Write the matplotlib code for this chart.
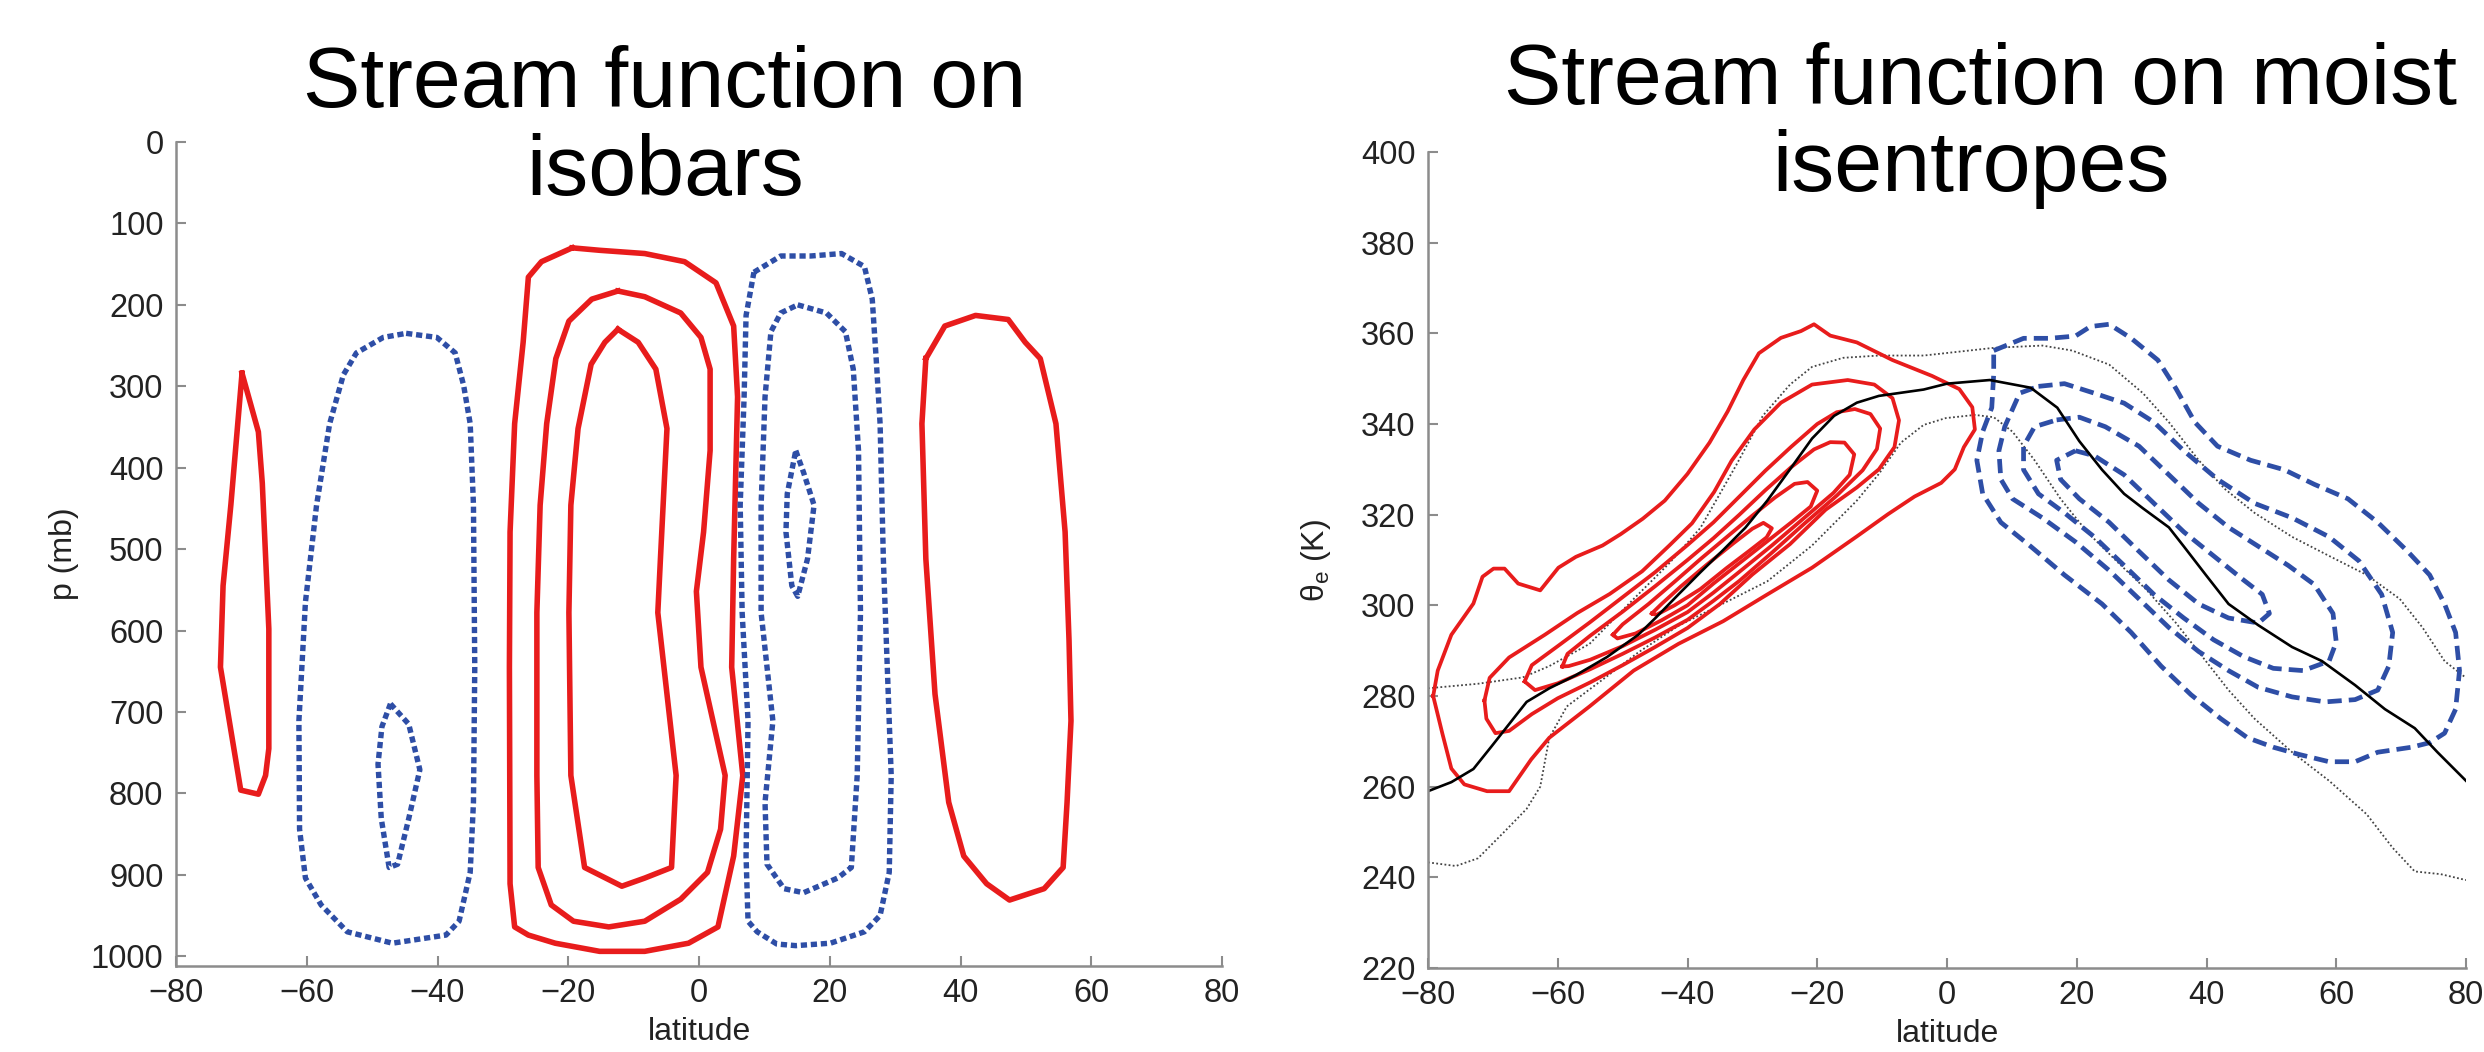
import matplotlib
matplotlib.use('Agg')
import matplotlib.pyplot as plt

plt.rcParams['font.family'] = ['Liberation Sans', 'DejaVu Sans']
plt.rcParams['mathtext.fontset'] = 'custom'
plt.rcParams['mathtext.rm'] = 'Liberation Sans'
plt.rcParams['mathtext.it'] = 'Liberation Sans'

# ---------------- data: left panel (latitude, pressure mb) ----------------
iso_red_a = [(-69.9, 284), (-67.4, 356), (-66.8, 419), (-65.8, 598), (-65.8, 745), (-66.3, 778),
             (-67.4, 801), (-70.1, 796), (-73.2, 645), (-72.8, 545), (-71.6, 445)]
iso_blue_a = [(-44.8, 235), (-40.1, 240), (-37.3, 259), (-36.0, 299), (-35.0, 346), (-34.5, 446),
              (-34.3, 645), (-34.5, 811), (-35.0, 897), (-36.7, 957), (-38.7, 974), (-46.9, 984),
              (-53.8, 970), (-57.8, 937), (-60.2, 904), (-61.1, 844), (-61.2, 711), (-60.2, 565),
              (-58.5, 446), (-56.5, 346), (-54.4, 286), (-52.4, 259), (-48.3, 240)]
iso_blue_b = [(-47.2, 690), (-44.4, 715), (-42.7, 771), (-44.4, 831), (-46.1, 887), (-47.4, 891),
              (-48.6, 831), (-49.1, 764), (-48.5, 718)]
iso_red_b1 = [(-19.4, 130), (-15.2, 133), (-8.3, 137), (-2.2, 147), (2.6, 173), (5.3, 226), (5.9, 313),
              (5.3, 512), (5.0, 645), (6.7, 778), (5.3, 877), (2.9, 964), (-1.6, 984), (-8.3, 994),
              (-15.2, 994), (-22.0, 984), (-26.1, 974), (-28.2, 964), (-28.9, 911), (-29.0, 645),
              (-28.9, 479), (-28.2, 346), (-26.9, 246), (-26.1, 166), (-24.1, 147)]
iso_red_b2 = [(-12.4, 183), (-8.3, 190), (-2.8, 210), (0.3, 240), (1.7, 279), (1.7, 379), (0.7, 479),
              (-0.4, 552), (0.3, 645), (4.0, 778), (3.3, 844), (1.3, 897), (-2.8, 930), (-8.3, 957),
              (-13.8, 964), (-19.2, 957), (-22.6, 937), (-24.6, 891), (-24.8, 778), (-24.8, 578),
              (-24.3, 446), (-23.3, 346), (-21.9, 266), (-19.9, 220), (-16.4, 193)]
iso_red_b3 = [(-12.4, 230), (-9.3, 246), (-6.6, 279), (-4.9, 352), (-5.9, 512), (-6.3, 578), (-3.5, 778),
              (-4.2, 891), (-8.3, 904), (-11.8, 914), (-17.5, 891), (-19.6, 778), (-19.9, 578),
              (-19.6, 446), (-18.5, 352), (-16.5, 273), (-14.4, 246)]
iso_blue_c1 = [(8.4, 160), (12.5, 140), (17.1, 140), (21.8, 137), (25.3, 153), (26.5, 193), (27.1, 266),
               (27.7, 346), (28.2, 512), (28.8, 645), (29.4, 778), (29.1, 897), (27.7, 950), (25.3, 970),
               (20.1, 984), (14.8, 987), (11.9, 985), (8.9, 970), (7.5, 957), (7.2, 877), (7.5, 711),
               (6.6, 578), (6.3, 446), (6.9, 313), (7.2, 213)]
iso_blue_c2 = [(15.1, 200), (19.5, 210), (22.4, 233), (23.6, 279), (24.4, 379), (24.7, 578), (24.2, 778),
               (23.3, 891), (21.2, 904), (16.0, 922), (13.0, 917), (10.4, 887), (10.1, 811), (11.3, 711),
               (9.5, 578), (9.5, 446), (10.1, 313), (11.0, 233), (12.5, 210)]
iso_blue_c3 = [(14.8, 379), (16.0, 406), (17.6, 446), (16.6, 512), (15.1, 558), (14.2, 545),
               (13.3, 479), (13.5, 432)]
iso_red_c = [(34.7, 266), (37.6, 226), (42.3, 213), (47.3, 218), (49.9, 246), (52.2, 266), (54.6, 346),
             (56.0, 479), (56.6, 612), (56.9, 711), (56.3, 811), (55.7, 891), (52.8, 917), (47.5, 931),
             (44.0, 911), (40.5, 877), (38.2, 811), (36.1, 678), (34.7, 512), (34.1, 346)]

# ---------------- data: right panel (latitude, theta_e K) ----------------
isen_red_1 = [(-79.2, 280.0), (-78.5, 285.6), (-76.4, 293.5), (-73.0, 300.4), (-71.6, 306.3), (-69.9, 308.1),
              (-68.2, 308.1), (-66.1, 304.8), (-62.7, 303.3), (-59.9, 308.3), (-57.2, 310.7), (-53.1, 313.2),
              (-50.3, 315.7), (-46.9, 319.1), (-43.5, 323.1), (-40.0, 329.0), (-36.6, 335.9), (-33.8, 342.8),
              (-31.4, 349.7), (-29.0, 355.6), (-25.6, 359.0), (-22.5, 360.5), (-20.5, 362.0), (-18.0, 359.5),
              (-13.9, 358.0), (-8.4, 354.1), (-2.3, 350.6), (1.9, 347.7), (3.9, 343.7), (4.3, 338.8),
              (2.6, 334.9), (1.2, 330.0), (-0.9, 327.0), (-5.0, 324.0), (-9.1, 320.1), (-13.9, 315.2),
              (-20.8, 308.3), (-27.7, 302.4), (-34.5, 296.5), (-41.4, 291.5), (-48.3, 285.6), (-55.1, 277.7),
              (-61.3, 270.8), (-64.1, 266.0), (-67.5, 259.0), (-70.9, 259.0), (-74.4, 260.5), (-76.4, 264.0),
              (-77.8, 271.8)]
isen_red_2 = [(-71.3, 279.0), (-70.5, 284.0), (-67.5, 288.5), (-62.0, 293.5), (-57.0, 298.3), (-52.0, 302.5),
              (-47.0, 307.5), (-42.8, 313.2), (-39.3, 318.1), (-35.9, 325.0), (-33.2, 331.9), (-29.7, 338.8),
              (-25.6, 344.7), (-20.8, 348.7), (-15.3, 349.7), (-11.2, 348.7), (-8.4, 345.7), (-7.4, 340.8),
              (-8.1, 334.9), (-10.5, 330.0), (-13.9, 326.0), (-18.7, 321.1), (-24.2, 313.5), (-30.0, 306.8),
              (-35.0, 300.3), (-40.0, 295.0), (-45.0, 290.8), (-50.0, 286.8), (-55.0, 283.0), (-60.0, 279.5),
              (-64.0, 276.0), (-67.5, 272.3), (-69.6, 271.8), (-71.0, 275.0)]
isen_red_3 = [(-65.1, 283.2), (-64.0, 286.8), (-60.0, 291.0), (-55.0, 296.3), (-50.0, 301.8), (-45.0, 307.3),
              (-40.0, 313.3), (-36.0, 318.3), (-32.0, 324.0), (-28.0, 329.7), (-24.0, 335.0), (-20.0, 340.0),
              (-17.0, 342.6), (-14.2, 343.3), (-11.8, 342.2), (-10.3, 339.0), (-10.8, 334.5), (-13.0, 329.8),
              (-17.0, 324.2), (-22.0, 318.0), (-27.0, 311.6), (-32.0, 305.4), (-36.0, 301.0), (-40.0, 296.8),
              (-45.0, 292.9), (-50.0, 289.3), (-55.0, 285.9), (-60.0, 282.8), (-63.5, 281.3)]
isen_red_4 = [(-59.3, 286.5), (-58.5, 289.3), (-55.0, 293.3), (-50.0, 298.6), (-45.0, 304.2), (-40.0, 310.0),
              (-36.0, 314.8), (-32.0, 320.0), (-28.0, 325.4), (-24.0, 330.5), (-20.5, 334.4), (-18.0, 336.0),
              (-15.8, 335.9), (-14.3, 333.3), (-15.0, 328.8), (-17.5, 324.8), (-22.0, 319.3), (-27.0, 313.2),
              (-32.0, 307.4), (-36.0, 302.8), (-40.0, 298.5), (-45.0, 294.6), (-50.0, 291.0), (-55.0, 288.0),
              (-58.3, 286.6)]
isen_red_5 = [(-51.5, 293.5), (-50.0, 295.8), (-46.0, 300.3), (-42.0, 305.2), (-38.0, 310.2), (-34.0, 315.0),
              (-30.0, 319.8), (-26.5, 323.8), (-23.5, 326.8), (-21.5, 327.2), (-20.0, 325.3), (-21.0, 321.8),
              (-24.0, 318.3), (-28.0, 313.8), (-32.0, 309.3), (-36.0, 304.8), (-40.0, 300.0), (-44.0, 296.7),
              (-48.0, 293.8), (-50.8, 292.7)]
isen_red_6 = [(-45.5, 298.2), (-44.0, 300.3), (-41.0, 304.2), (-37.0, 309.0), (-33.0, 313.6), (-30.0, 316.9),
              (-28.3, 318.2), (-27.0, 317.0), (-27.8, 315.0), (-30.5, 312.0), (-34.0, 308.2), (-38.0, 303.6),
              (-42.0, 300.0), (-44.8, 297.9)]
isen_blue_1 = [(7.2, 356.2), (11.8, 358.9), (15.8, 358.9), (19.8, 359.4), (22.1, 361.5), (25.0, 362.0),
               (28.4, 358.9), (32.5, 354.1), (35.3, 347.8), (38.2, 340.4), (41.7, 335.1), (46.8, 332.0),
               (52.0, 329.9), (56.6, 326.7), (61.8, 323.5), (66.4, 318.3), (71.0, 311.9), (74.4, 306.7),
               (76.7, 300.3), (78.4, 294.0), (79.0, 285.6), (78.4, 277.1), (76.7, 271.8), (74.4, 269.7),
               (71.6, 268.7), (66.4, 267.6), (62.9, 265.5), (58.9, 265.5), (54.3, 267.1), (50.3, 268.7),
               (46.3, 270.8), (42.2, 275.0), (37.6, 280.3), (33.0, 286.6), (28.4, 294.0), (23.9, 300.3),
               (18.1, 306.7), (12.9, 313.0), (8.3, 318.3), (5.5, 324.6), (4.6, 332.0), (5.5, 338.3),
               (6.9, 343.6), (7.2, 351.0)]
isen_blue_2 = [(14.1, 348.3), (18.1, 348.9), (22.7, 346.8), (27.3, 344.6), (31.9, 340.4), (36.5, 334.1),
               (41.7, 327.8), (47.4, 322.5), (53.2, 319.3), (58.9, 315.1), (63.5, 309.8), (67.0, 302.4),
               (68.7, 294.0), (68.1, 286.6), (66.4, 281.3), (62.9, 279.2), (58.3, 278.7), (53.2, 279.8),
               (48.0, 281.9), (43.4, 285.6), (38.8, 289.8), (34.2, 295.1), (29.6, 301.4), (25.0, 307.7),
               (19.8, 314.0), (14.7, 319.3), (10.1, 323.5), (8.3, 327.8), (8.0, 334.1), (8.9, 339.4),
               (11.2, 346.8)]
isen_blue_3 = [(16.9, 340.9), (20.4, 341.5), (24.4, 339.4), (29.6, 335.1), (34.2, 328.8), (38.8, 322.5),
               (43.4, 317.2), (48.0, 313.0), (52.6, 308.8), (56.6, 304.6), (59.5, 298.2), (60.0, 291.9),
               (58.9, 287.7), (54.9, 285.6), (50.3, 286.1), (45.7, 288.7), (41.1, 292.4), (36.5, 297.2),
               (31.9, 302.4), (27.3, 308.8), (22.7, 315.1), (18.1, 320.4), (14.1, 324.6), (11.8, 329.9),
               (11.8, 335.1), (13.5, 339.4)]
isen_blue_4 = [(19.8, 334.1), (22.7, 333.0), (27.3, 328.8), (31.9, 322.5), (36.5, 316.2), (41.1, 310.9),
               (45.7, 305.6), (48.6, 302.4), (49.7, 298.2), (48.0, 296.1), (43.4, 297.2), (38.8, 300.3),
               (34.2, 305.6), (29.6, 311.9), (25.0, 318.3), (20.4, 323.5), (17.5, 327.8), (16.9, 332.0)]
mean_theta_lat = [-80.0, -76.4, -73.0, -70.2, -67.5, -64.8, -61.3, -57.2, -52.4, -47.6, -44.8, -41.4, -38.0,
                  -34.5, -31.1, -27.7, -24.2, -20.8, -17.4, -13.9, -10.5, -3.6, 0.0, 6.6, 12.9, 17.0, 20.4,
                  23.9, 27.3, 30.2, 34.2, 36.5, 39.9, 43.4, 48.0, 53.2, 57.8, 62.9, 67.5, 72.1, 75.6, 80.0]
mean_theta = [259.0, 261.0, 263.9, 268.9, 273.8, 278.7, 281.7, 284.6, 288.6, 293.5, 297.4, 302.4, 307.3,
              312.2, 317.1, 323.1, 330.0, 336.8, 341.8, 344.7, 346.2, 347.6, 348.9, 349.7, 348.0, 343.6, 336.2,
              329.9, 324.6, 321.4, 317.2, 313.0, 306.7, 300.3, 295.6, 290.8, 287.7, 282.4, 277.1, 272.9, 267.6,
              261.3]
upper_theta_lat = [-80.0, -72.3, -65.4, -61.3, -55.1, -48.3, -42.8, -38.0, -32.5, -28.4, -24.2, -20.8, -16.0,
                   -10.5, -3.6, 7.2, 14.7, 19.3, 25.0, 30.2, 34.2, 38.8, 42.8, 47.4, 53.2, 58.9, 64.7, 69.8,
                   73.3, 76.7, 80.0]
upper_theta = [281.7, 282.7, 284.1, 286.6, 291.5, 301.4, 309.3, 317.1, 330.9, 341.8, 348.7, 352.6, 354.6,
               355.1, 355.1, 356.8, 357.3, 356.2, 353.1, 346.8, 340.4, 332.0, 325.7, 320.4, 315.1, 310.9,
               306.7, 301.4, 295.1, 287.7, 284.0]
lower_theta_lat = [-80.0, -75.7, -72.3, -68.2, -64.8, -62.7, -61.3, -58.6, -53.1, -47.6, -41.4, -34.5, -27.7,
                   -20.8, -13.9, -10.5, -7.1, -3.6, -0.2, 4.3, 7.2, 10.1, 13.5, 17.5, 21.6, 26.1, 30.7, 35.3,
                   39.9, 43.4, 47.4, 53.2, 58.9, 64.7, 68.7, 72.1, 76.1, 80.0]
lower_theta = [243.3, 242.5, 244.2, 250.1, 255.1, 260.0, 270.8, 277.7, 283.6, 289.6, 295.5, 300.4, 305.3,
               313.2, 323.1, 329.0, 335.9, 339.8, 341.3, 342.0, 341.5, 338.3, 332.0, 323.5, 316.2, 309.8,
               303.5, 296.1, 287.7, 281.3, 275.0, 267.6, 261.3, 253.9, 246.5, 241.3, 240.7, 239.4]

p_ticks = list(range(0, 1001, 100))
theta_ticks = list(range(220, 401, 20))
lat_ticks = list(range(-80, 81, 20))

RED = '#e81c1c'
BLUE = '#2e4ea6'
W, H = 2484, 1052

fig = plt.figure(figsize=(W / 100, H / 100), dpi=100)
ax1 = fig.add_axes([176 / W, 1 - 966 / H, 1046 / W, 824 / H])
ax2 = fig.add_axes([1428 / W, 1 - 968 / H, 1038 / W, 816 / H])


def closed(pts):
    xs = [a for a, b in pts] + [pts[0][0]]
    ys = [b for a, b in pts] + [pts[0][1]]
    return xs, ys


for c in [iso_red_a, iso_red_b1, iso_red_b2, iso_red_b3, iso_red_c]:
    ax1.plot(*closed(c), color=RED, lw=4.0, solid_joinstyle='round')
for c in [iso_blue_a, iso_blue_b, iso_blue_c1, iso_blue_c2, iso_blue_c3]:
    ax1.plot(*closed(c), color=BLUE, lw=3.9, linestyle=(0, (1.15, 0.7)), dash_capstyle='butt')

ax2.plot(upper_theta_lat, upper_theta, color='#444444', lw=1.3, linestyle=(0, (1, 1.3)))
ax2.plot(lower_theta_lat, lower_theta, color='#444444', lw=1.3, linestyle=(0, (1, 1.3)))
for c in [isen_red_1, isen_red_2, isen_red_3, isen_red_4, isen_red_5, isen_red_6]:
    ax2.plot(*closed(c), color=RED, lw=2.7, solid_joinstyle='round')
for c in [isen_blue_1, isen_blue_2, isen_blue_3, isen_blue_4]:
    ax2.plot(*closed(c), color=BLUE, lw=3.4, linestyle=(0, (3.0, 1.5)))
ax2.plot(mean_theta_lat, mean_theta, color='black', lw=1.9)

ax1.set_xlim(-80, 80)
ax1.set_ylim(1012, 0)
ax1.set_xticks(lat_ticks)
ax1.set_yticks(p_ticks)
ax2.set_xlim(-80, 80)
ax2.set_ylim(220, 400)
ax2.set_xticks(lat_ticks)
ax2.set_yticks(theta_ticks)

for ax in (ax1, ax2):
    for s in ['top', 'right']:
        ax.spines[s].set_visible(False)
    for s in ['left', 'bottom']:
        ax.spines[s].set_color('#8c8c8c')
        ax.spines[s].set_linewidth(1.8)
    ax.tick_params(direction='in', length=7, width=1.5, color='#8c8c8c',
                   labelsize=23.5, labelcolor='#222222', pad=9)
    ax.set_xlabel('latitude', fontsize=23, color='#222222')
    ax.xaxis.set_label_coords(0.5, -0.062)

ax1.set_ylabel('p (mb)', fontsize=23, color='#222222')
ax1.yaxis.set_label_coords(-0.093, 0.5)
ax2.set_ylabel(r'θ$_\mathrm{e}$ (K)', fontsize=23, color='#222222')
ax2.yaxis.set_label_coords(-0.092, 0.5)

fig.text(665 / W, 1 - 107 / H, 'Stream function on', fontsize=62, ha='center', va='baseline')
fig.text(665 / W, 1 - 195 / H, 'isobars', fontsize=62, ha='center', va='baseline')
fig.text(1980 / W, 1 - 104 / H, 'Stream function on moist', fontsize=62, ha='center', va='baseline')
fig.text(1971 / W, 1 - 191 / H, 'isentropes', fontsize=62, ha='center', va='baseline')

fig.savefig('out.png', dpi=100)
